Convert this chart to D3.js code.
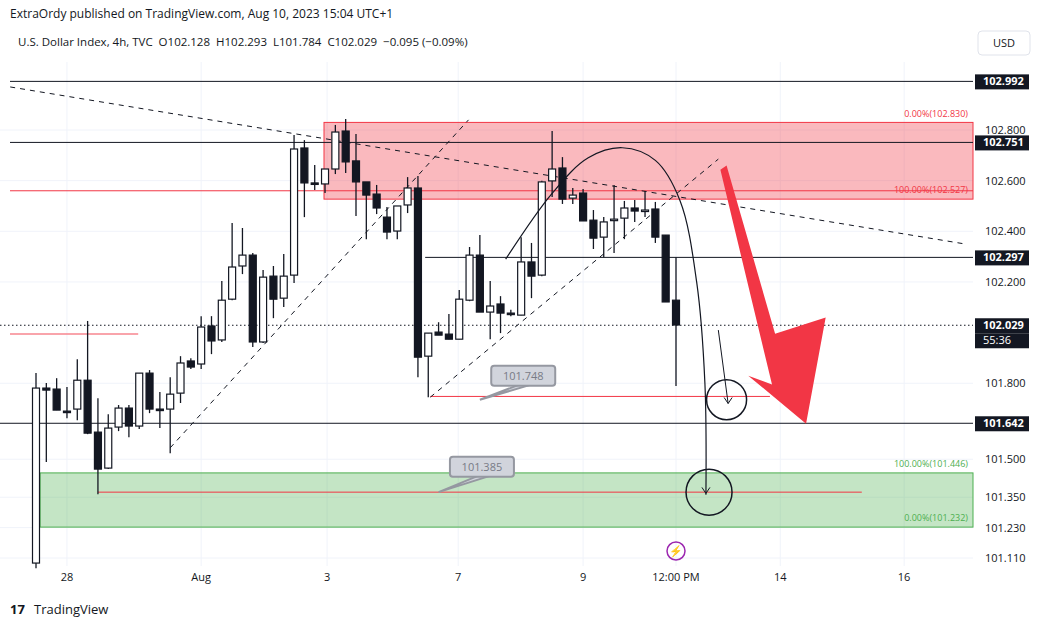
<!DOCTYPE html>
<html><head><meta charset="utf-8">
<script src="https://cdn.jsdelivr.net/npm/d3@7"></script>
<style>body{margin:0;background:#fff;font-family:"Open Sans",Roboto,sans-serif}text{white-space:pre}</style>
</head><body><svg id="c" width="1049" height="627"></svg>
<script>
// candles: [open, high, low, close]
const opens =[101.090,101.781,101.777,101.690,101.698,101.812,101.607,101.465,101.627,101.702,101.631,101.840,101.698,101.698,101.761,101.888,101.876,102.026,101.971,102.132,102.263,102.306,101.963,102.223,102.136,102.227,102.729,102.591,102.587,102.646,102.796,102.678,102.595,102.547,102.456,102.401,102.504,102.571,101.907,102.002,101.994,101.974,102.128,102.306,102.081,102.113,102.077,102.069,102.279,102.227,102.599,102.650,102.531,102.551,102.444,102.377,102.448,102.452,102.492,102.484,102.488,102.385,102.128];
const highs =[101.840,101.801,101.820,101.785,101.895,102.046,101.741,101.678,101.714,101.714,101.840,101.852,101.765,101.824,101.907,101.899,102.065,102.065,102.204,102.433,102.413,102.314,102.247,102.263,102.310,102.780,102.760,102.662,102.622,102.820,102.843,102.784,102.595,102.583,102.496,102.500,102.614,102.618,101.998,102.041,102.073,102.168,102.338,102.385,102.204,102.144,102.090,102.377,102.354,102.600,102.796,102.693,102.571,102.567,102.484,102.456,102.583,102.520,102.524,102.559,102.516,102.385,102.298];
const lows  =[101.070,101.489,101.694,101.662,101.654,101.599,101.362,101.461,101.611,101.587,101.619,101.682,101.623,101.524,101.722,101.856,101.856,101.915,101.963,102.128,102.231,101.943,101.959,102.057,102.101,102.196,102.456,102.563,102.551,102.626,102.630,102.460,102.369,102.468,102.369,102.369,102.472,101.824,101.745,101.998,101.974,101.974,102.124,102.081,101.974,101.998,102.065,102.069,102.136,102.223,102.535,102.508,102.508,102.441,102.330,102.298,102.314,102.369,102.437,102.456,102.354,102.121,101.789];
const closes=[101.781,101.773,101.694,101.688,101.812,101.603,101.461,101.623,101.702,101.631,101.840,101.698,101.696,101.757,101.880,101.864,102.022,101.967,102.128,102.259,102.306,101.963,102.219,102.132,102.223,102.725,102.591,102.587,102.646,102.792,102.674,102.595,102.543,102.492,102.397,102.500,102.571,101.903,101.998,101.990,101.974,102.132,102.306,102.081,102.105,102.077,102.075,102.279,102.223,102.595,102.646,102.527,102.543,102.441,102.373,102.437,102.448,102.492,102.480,102.484,102.377,102.121,102.030];
const priceTicks=[102.800,102.600,102.400,102.200,101.800,101.500,101.350,101.230,101.110];
const dateTicks=[[3,"28"],[16,"Aug"],[28.2,"3"],[40.9,"7"],[53,"9"],[62,"12:00 PM"],[72.1,"14"],[84.1,"16"]];
const blackLevels=[102.992,102.751,102.297,101.642];
const lastPrice=102.029;
const redZone=[102.830,102.527], greenZone=[101.446,101.232];

const svg=d3.select("#c");
const x=d3.scaleLinear().domain([0,62]).range([36,676]);
const y=d3.scaleLinear().domain([101.11,102.8]).range([558,130]);
const W=973, T=62, B=566, L=0;
const g=svg.append("g");
priceTicks.forEach(p=>g.append("line").attr("x1",L).attr("x2",W).attr("y1",y(p)).attr("y2",y(p)).attr("stroke","#f0f3fa"));
dateTicks.forEach(d=>g.append("line").attr("x1",x(d[0])).attr("x2",x(d[0])).attr("y1",T).attr("y2",B).attr("stroke","#f0f3fa"));
g.append("rect").attr("x",x(27.9)).attr("width",W-x(27.9)).attr("y",y(redZone[0])).attr("height",y(redZone[1])-y(redZone[0])).attr("fill","rgba(242,54,69,0.35)").attr("stroke","#f23645");
g.append("rect").attr("x",x(0.4)).attr("width",W-x(0.4)).attr("y",y(greenZone[0])).attr("height",y(greenZone[1])-y(greenZone[0])).attr("fill","rgba(76,175,80,0.33)").attr("stroke","#4caf50");
const txt=(t,xx,yy,col,anc,sz)=>g.append("text").attr("x",xx).attr("y",yy).attr("fill",col).attr("font-size",sz||9).attr("text-anchor",anc||"start").text(t);
txt("0.00%(102.830)",968,y(102.83)-5,"#f23645","end");
txt("100.00%(102.527)",968,y(102.527)-6,"#f23645","end");
txt("100.00%(101.446)",968,y(101.446)-6,"#4caf50","end");
txt("0.00%(101.232)",968,y(101.232)-6,"#4caf50","end");
const hl=(p,i0,i1,col,dash,w)=>g.append("line").attr("x1",i0).attr("x2",i1).attr("y1",y(p)).attr("y2",y(p)).attr("stroke",col).attr("stroke-width",w||1).attr("stroke-dasharray",dash||null);
hl(blackLevels[0],10,W,"#131722");
hl(blackLevels[1],10,W,"#131722");
hl(blackLevels[2],x(37.7),W,"#131722");
hl(blackLevels[3],0,W,"#131722");
hl(lastPrice,0,W,"#131722","1.5,2.5");
hl(102.56,10,W,"#f23645",null,1);
hl(101.994,10,x(9.9),"#f7868f",null,1.5);
hl(101.37,x(6),x(80),"#f23645");
hl(101.748,x(38.2),x(71.1),"#f23645");
const trends=[[[-2.5,102.97],[90,102.35]],[[13,101.545],[41.9,102.84]],[[38.2,101.745],[66.1,102.685]]];
trends.forEach(t=>g.append("line").attr("x1",x(t[0][0])).attr("y1",y(t[0][1])).attr("x2",x(t[1][0])).attr("y2",y(t[1][1])).attr("stroke","#131722").attr("stroke-dasharray","5,5"));
const bw=7;
opens.forEach((o,i)=>{
  const c=closes[i],h=highs[i],l=lows[i],up=c>=o,cx=x(i);
  g.append("line").attr("x1",cx).attr("x2",cx).attr("y1",y(h)).attr("y2",y(l)).attr("stroke","#131722").attr("stroke-width",1.3);
  const top=y(Math.max(o,c)),ht=Math.max(1.5,Math.abs(y(o)-y(c)));
  g.append("rect").attr("x",cx-bw/2).attr("y",top).attr("width",bw).attr("height",ht).attr("fill",up?"#fff":"#131722").attr("stroke","#131722").attr("stroke-width",1.2);
});
const arc=[[45.5,102.29],[50,102.55],[53.5,102.69],[56.8,102.73],[60,102.68],[62.4,102.52],[64,102.2],[64.8,101.8],[64.9,101.36]];
g.append("path").attr("d",d3.line().x(d=>x(d[0])).y(d=>y(d[1])).curve(d3.curveCatmullRom)(arc)).attr("fill","none").attr("stroke","#131722").attr("stroke-width",1.2);
const arrowHead=(xx,yy)=>g.append("path").attr("d",`M${xx-4},${yy-6}L${xx},${yy}L${xx+4},${yy-6}`).attr("fill","none").attr("stroke","#131722");
arrowHead(x(64.9),y(101.365));
g.append("line").attr("x1",x(66.1)).attr("y1",y(102.01)).attr("x2",x(67.05)).attr("y2",y(101.72)).attr("stroke","#131722");
arrowHead(x(67.05),y(101.72));
g.append("circle").attr("cx",x(66.9)).attr("cy",y(101.735)).attr("r",20).attr("fill","none").attr("stroke","#131722").attr("stroke-width",1.5);
g.append("circle").attr("cx",x(65.2)).attr("cy",y(101.37)).attr("r",23).attr("fill","none").attr("stroke","#131722").attr("stroke-width",1.5);
const bigArrow=[[66.9,102.66],[71.6,101.995],[76.5,102.06],[74.6,101.64],[69,101.83],[71.3,101.795],[66.3,102.643]];
g.append("polygon").attr("points",bigArrow.map(d=>x(d[0])+","+y(d[1])).join(" ")).attr("fill","#f23645");
const callout=(t,cx,cy,px,py)=>{
  g.append("path").attr("d",`M${cx-4},${cy+9}L${px},${py}L${cx+8},${cy+9}`).attr("fill","#d1d4dc").attr("stroke","#9598a1").attr("stroke-width",2);
  g.append("rect").attr("x",cx-32).attr("y",cy-10).attr("width",64).attr("height",20).attr("rx",3).attr("fill","#d1d4dc").attr("stroke","#9598a1").attr("stroke-width",2);
  g.append("text").attr("x",cx).attr("y",cy+4).attr("text-anchor","middle").attr("font-size",11).attr("fill","#787b86").text(t);
};
callout("101.748",x(47.2),y(101.83),x(43.0),y(101.735));
callout("101.385",x(43.2),y(101.47),x(39.0),y(101.37));
g.append("circle").attr("cx",x(62)).attr("cy",551).attr("r",9).attr("fill","none").attr("stroke","#9c27b0").attr("stroke-width",1.5);
g.append("text").attr("x",x(62)).attr("y",555).attr("text-anchor","middle").attr("font-size",11).attr("fill","#e040fb").text("⚡");
priceTicks.forEach(p=>svg.append("text").attr("x",985).attr("y",y(p)+4).attr("font-size",11).attr("fill","#131722").text(p.toFixed(3)));
blackLevels.concat([lastPrice]).forEach(p=>{
  svg.append("rect").attr("x",975).attr("y",y(p)-7).attr("width",54).attr("height",15).attr("fill","#131722");
  svg.append("text").attr("x",983).attr("y",y(p)+4).attr("font-size",11).attr("font-weight","bold").attr("fill","#fff").text(p.toFixed(3));
});
svg.append("rect").attr("x",975).attr("y",y(lastPrice)+8).attr("width",54).attr("height",15).attr("fill","#131722");
svg.append("text").attr("x",983).attr("y",y(lastPrice)+19).attr("font-size",11).attr("fill","#fff").text("55:36");
dateTicks.forEach(d=>svg.append("text").attr("x",x(d[0])).attr("y",581).attr("text-anchor","middle").attr("font-size",11).attr("fill","#131722").text(d[1]));
svg.append("text").attr("x",10).attr("y",18).attr("font-size",12).attr("fill","#131722").text("ExtraOrdy published on TradingView.com, Aug 10, 2023 15:04 UTC+1");
svg.append("text").attr("x",18).attr("y",46).attr("font-size",11.5).attr("fill","#131722").text("U.S. Dollar Index, 4h, TVC  O102.128  H102.293  L101.784  C102.029  −0.095 (−0.09%)");
svg.append("rect").attr("x",978).attr("y",31).attr("width",52).attr("height",24).attr("rx",4).attr("fill","#fff").attr("stroke","#e0e3eb");
svg.append("text").attr("x",1004).attr("y",47).attr("text-anchor","middle").attr("font-size",11).attr("fill","#131722").text("USD");
svg.append("text").attr("x",10).attr("y",614).attr("font-size",13).attr("font-weight","bold").attr("fill","#131722").text("17");
svg.append("text").attr("x",34).attr("y",614).attr("font-size",13).attr("fill","#131722").text("TradingView");
</script></body></html>
